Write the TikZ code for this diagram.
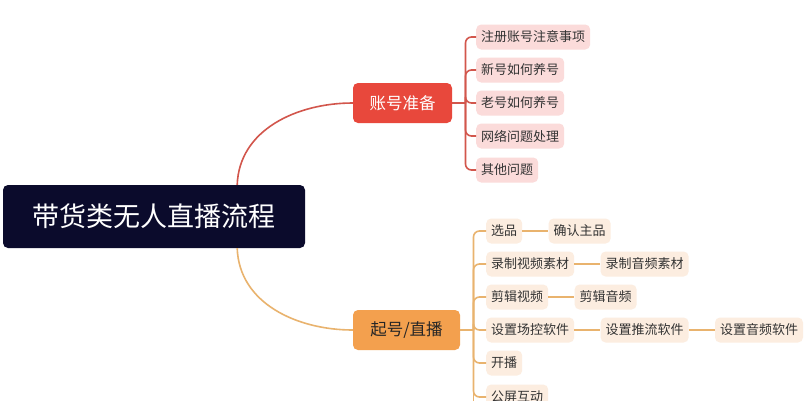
\documentclass[tikz,border=0pt]{standalone}
\usepackage{fontspec}
\setmainfont{Noto Sans CJK SC}
\usepackage{tikz}
\usetikzlibrary{positioning}
\definecolor{rootnavy}{HTML}{0B0B2C}
\definecolor{accred}{HTML}{E8483C}
\definecolor{redline}{HTML}{D2564C}
\definecolor{redfill}{HTML}{FBDBDA}
\definecolor{liveorange}{HTML}{F3A04E}
\definecolor{orangeline}{HTML}{E9B36E}
\definecolor{orangefill}{HTML}{FCEDE0}
\definecolor{leaftext}{HTML}{333333}

\begin{document}
\begin{tikzpicture}[
    x=1pt, y=-1pt,
    root/.style   = {rectangle, rounded corners=5pt, fill=rootnavy, text=white,
                     minimum width=302pt, minimum height=63pt,
                     font=\fontsize{27}{30}\selectfont},
    branch/.style = {rectangle, rounded corners=5pt, minimum height=40pt,
                     inner xsep=0pt, font=\fontsize{16.5}{19}\selectfont},
    leaf/.style   = {rectangle, rounded corners=5pt, minimum height=25pt,
                     inner xsep=5pt, inner ysep=0pt, text=leaftext,
                     font=\fontsize{13}{15}\selectfont, anchor=west},
    redleaf/.style = {leaf, fill=redfill},
    orleaf/.style  = {leaf, fill=orangefill},
    redlink/.style = {draw=redline, line width=1.6pt},
    orlink/.style  = {draw=orangeline, line width=1.6pt}
  ]
  \clip (0,0) rectangle (811,400);
  \fill[white] (0,0) rectangle (811,400);

  % -- root ------------------------------------------------------------------
  \node[root] (root) at (154,216.5) {带货类无人直播流程};

  % -- branch 1: account -----------------------------------------------------
  \node[branch, fill=accred, text=white, minimum width=99pt] (acc) at (402.5,103) {账号准备};
  \node[redleaf] (acc1) at (476,37)  {注册账号注意事项};
  \node[redleaf] (acc2) at (476,70)  {新号如何养号};
  \node[redleaf] (acc3) at (476,103) {老号如何养号};
  \node[redleaf] (acc4) at (476,136) {网络问题处理};
  \node[redleaf] (acc5) at (476,170) {其他问题};
  \coordinate (accfork) at (465.5,103);

  % -- branch 2: live --------------------------------------------------------
  \node[branch, fill=liveorange, text=black!85, minimum width=107pt] (live) at (406.5,330) {起号/直播};
  \node[orleaf] (pick)  at (486,231) {选品};
  \node[orleaf, right=26pt of pick]  (pick2)  {确认主品};
  \node[orleaf] (rec)   at (486,264) {录制视频素材};
  \node[orleaf, right=26pt of rec]   (rec2)   {录制音频素材};
  \node[orleaf] (cut)   at (486,297) {剪辑视频};
  \node[orleaf, right=26pt of cut]   (cut2)   {剪辑音频};
  \node[orleaf] (soft)  at (486,330) {设置场控软件};
  \node[orleaf, right=26pt of soft]  (soft2)  {设置推流软件};
  \node[orleaf, right=26pt of soft2] (soft3)  {设置音频软件};
  \node[orleaf] (start) at (486,363) {开播};
  \node[orleaf] (chat)  at (486,397) {公屏互动};
  \coordinate (livefork) at (473.5,330);

  % -- root to branches ------------------------------------------------------
  \draw[redlink] ([xshift=-68pt]root.north east) to[out=88, in=180] (acc.west);
  \draw[orlink]  ([xshift=-68pt]root.south east) to[out=-88, in=180] (live.west);

  % -- account fork ----------------------------------------------------------
  \draw[redlink] (acc.east) -- (accfork);
  \foreach \c in {acc1,acc2,acc3,acc4,acc5}
    \draw[redlink, rounded corners=6pt] (accfork) |- (\c.west);

  % -- live fork -------------------------------------------------------------
  \draw[orlink] (live.east) -- (livefork);
  \foreach \c in {pick,rec,cut,soft,start,chat}
    \draw[orlink, rounded corners=6pt] (livefork) |- (\c.west);
  \draw[orlink] (livefork) -- ++(0,75);
  \draw[orlink] (pick.east) -- (pick2.west);
  \draw[orlink] (rec.east)  -- (rec2.west);
  \draw[orlink] (cut.east)  -- (cut2.west);
  \draw[orlink] (soft.east) -- (soft2.west);
  \draw[orlink] (soft2.east) -- (soft3.west);
\end{tikzpicture}
\end{document}
